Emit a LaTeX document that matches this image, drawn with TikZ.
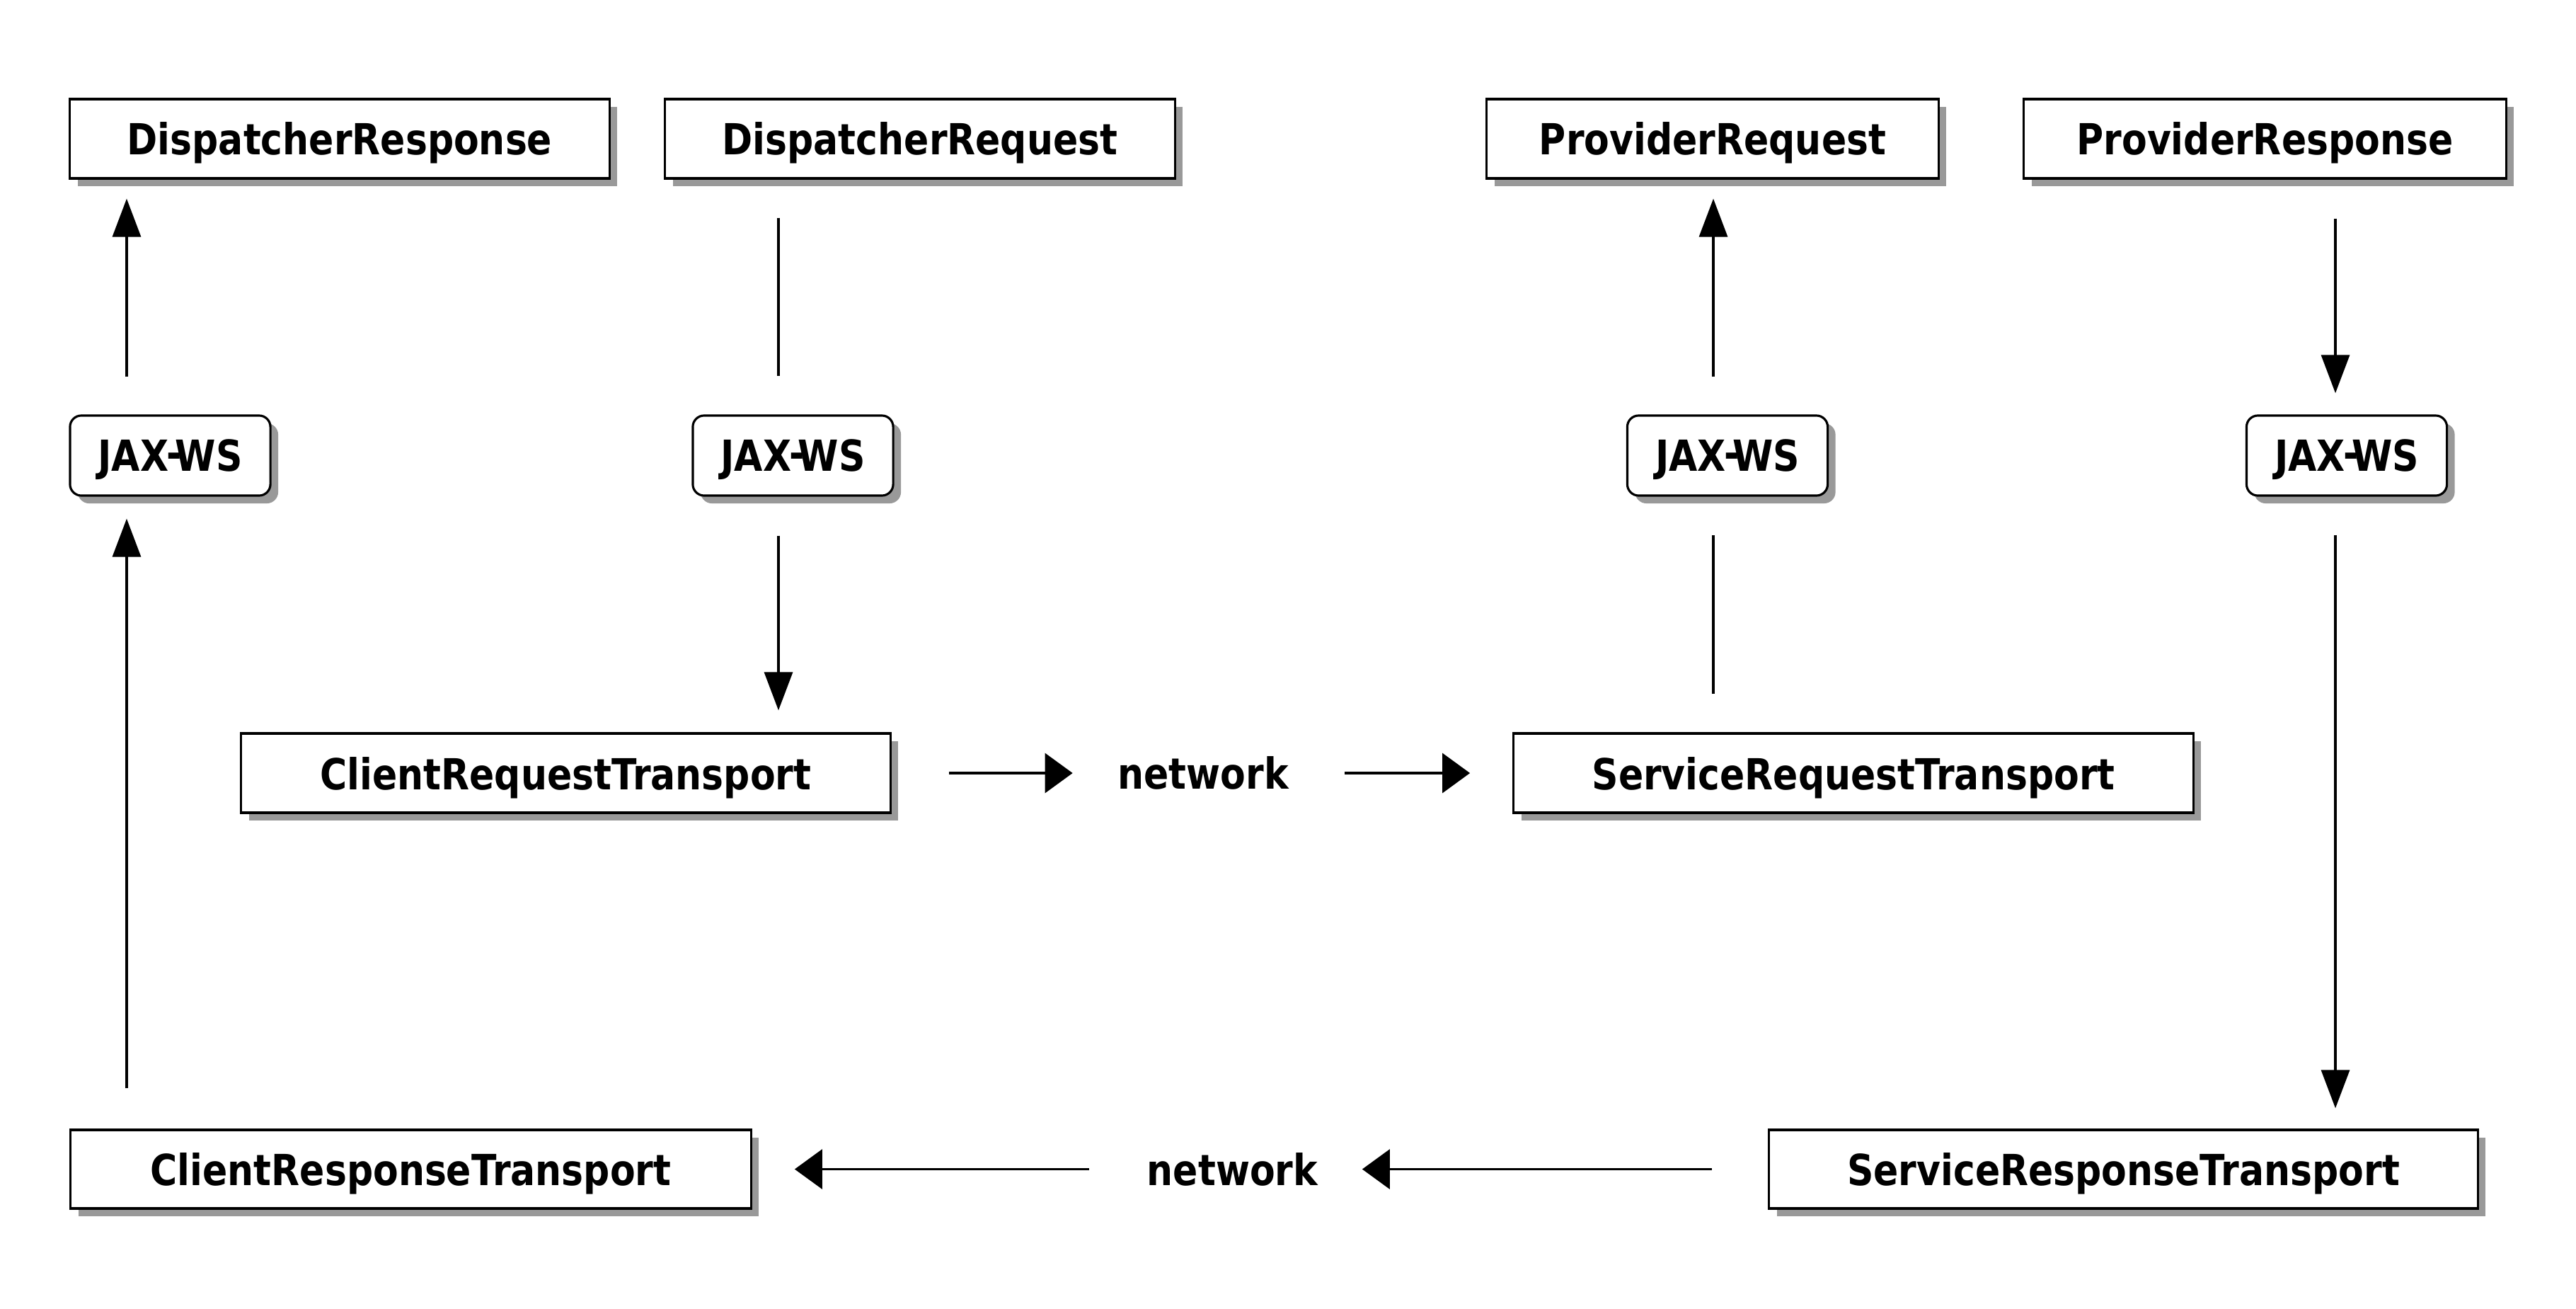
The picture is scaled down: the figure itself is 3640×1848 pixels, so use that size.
\documentclass[tikz,border=0pt]{standalone}
\usepackage{fontspec}
\newfontfamily\lblfont{DejaVu Sans}[FakeStretch=0.86]
\usetikzlibrary{arrows.meta,shadows}
\newcommand\myjaxws{JAX\kern-0.04em\raisebox{0.08em}{-}\kern-0.16em WS}
\begin{document}
\begin{tikzpicture}[x=0.01cm,y=-0.01cm,
  lbl/.style={font=\lblfont\bfseries\fontsize{17.2pt}{20pt}\selectfont},
  box/.style={lbl, draw, line width=0.9pt, fill=white, inner sep=0pt,
    minimum height=1.12cm, text depth=0pt,
    drop shadow={shadow xshift=0.11cm, shadow yshift=-0.11cm, fill=black!40, opacity=1}},
  jax/.style={box, rounded corners=0.16cm, minimum width=2.83cm, minimum height=1.13cm},
  net/.style={lbl, inner sep=0pt, minimum width=2.38cm},
  conn/.style={line width=0.9pt},
  varr/.style={conn, -{Triangle[length=0.54cm,width=0.40cm]}},
  harr/.style={conn, -{Triangle[length=0.39cm,width=0.56cm]}}]
\useasboundingbox (0,0) rectangle (3640,1848);
% top row
\node[box, minimum width=7.62cm] (dresp) at (480,196) {DispatcherResponse};
\node[box, minimum width=7.20cm] (dreq) at (1300,196) {DispatcherRequest};
\node[box, minimum width=6.38cm] (preq) at (2420,196) {ProviderRequest};
\node[box, minimum width=6.81cm] (presp) at (3200.5,196) {ProviderResponse};
% JAX-WS row
\node[jax] (jax1) at (240.5,643.5) {\myjaxws};
\node[jax] (jax2) at (1120.5,643.5) {\myjaxws};
\node[jax] (jax3) at (2441,643.5) {\myjaxws};
\node[jax] (jax4) at (3316,643.5) {\myjaxws};
% middle row
\node[box, minimum width=9.17cm] (crt) at (799.5,1092) {ClientRequestTransport};
\node[net] (net1) at (1700,1092) {network};
\node[box, minimum width=9.60cm] (srt) at (2619,1092) {ServiceRequestTransport};
% bottom row
\node[box, minimum width=9.61cm, minimum height=1.11cm] (cresp) at (580.5,1651.5) {ClientResponseTransport};
\node[net] (net2) at (1741.5,1651.5) {network};
\node[box, minimum width=10.01cm, minimum height=1.11cm] (sresp) at (3000.5,1651.5) {ServiceResponseTransport};
% connector columns
\coordinate (c1) at (179,0);
\coordinate (c2) at (1100,0);
\coordinate (c3) at (2421,0);
\coordinate (c4) at (3300,0);
% vertical connectors
\draw[varr, shorten <=0.53cm, shorten >=0.27cm] (c1 |- jax1.north) -- (c1 |- dresp.south);
\draw[varr, shorten <=0.57cm, shorten >=0.31cm] (c1 |- cresp.north) -- (c1 |- jax1.south);
\draw[conn, shorten <=0.54cm, shorten >=0.54cm] (c2 |- dreq.south) -- (c2 |- jax2.north);
\draw[varr, shorten <=0.55cm, shorten >=0.31cm] (c2 |- jax2.south) -- (c2 |- crt.north);
\draw[varr, shorten <=0.53cm, shorten >=0.27cm] (c3 |- jax3.north) -- (c3 |- preq.south);
\draw[conn, shorten <=0.54cm, shorten >=0.54cm] (c3 |- srt.north) -- (c3 |- jax3.south);
\draw[varr, shorten <=0.55cm, shorten >=0.30cm] (c4 |- presp.south) -- (c4 |- jax4.north);
\draw[varr, shorten <=0.54cm, shorten >=0.29cm] (c4 |- jax4.south) -- (c4 |- sresp.north);
% horizontal connectors
\draw[harr, shorten <=0.81cm, shorten >=0.63cm] (crt.east) -- (net1.west);
\draw[harr, shorten <=0.79cm, shorten >=0.60cm] (net1.east) -- (srt.west);
\draw[harr, shorten <=0.79cm, shorten >=0.62cm] (sresp.west) -- (net2.east);
\draw[harr, shorten <=0.81cm, shorten >=0.60cm] (net2.west) -- (cresp.east);
\end{tikzpicture}
\end{document}
